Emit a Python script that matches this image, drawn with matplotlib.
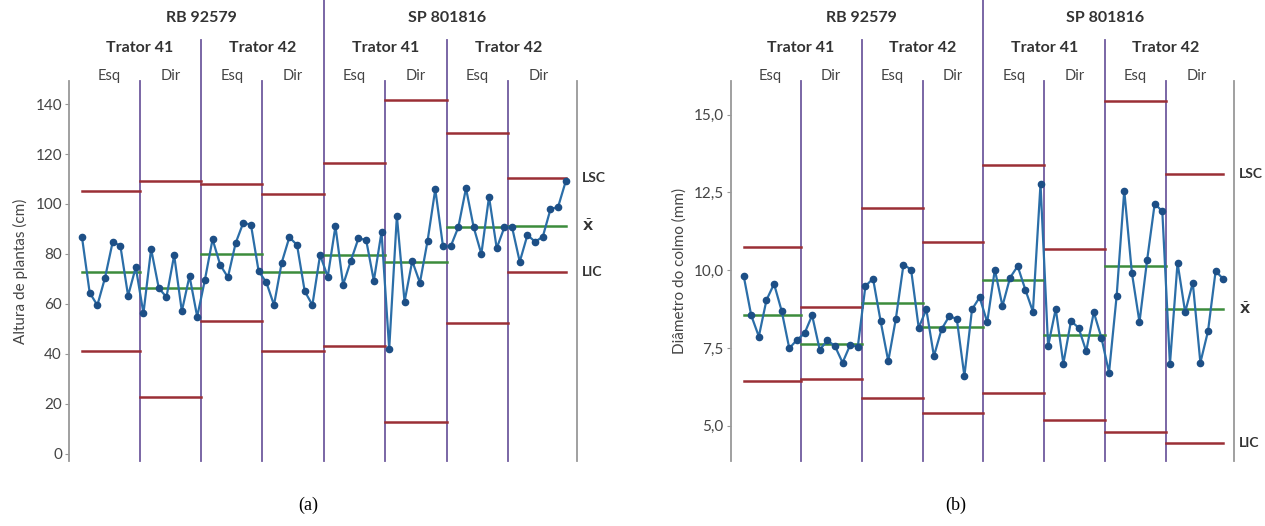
import numpy as np
import matplotlib
matplotlib.use("Agg")
import matplotlib.pyplot as plt

# dados: 8 subgrupos de 8 pontos
# ordem: RB 92579 (T41 Esq, T41 Dir, T42 Esq, T42 Dir), SP 801816 (idem)
altura = [86.7, 64.5, 59.5, 70.5, 84.9, 83.2, 63.3, 74.7,
          56.3, 82.0, 66.3, 62.8, 79.5, 57.1, 71.2, 54.9,
          69.6, 85.9, 75.6, 70.7, 84.3, 92.5, 91.7, 73.1,
          68.7, 59.6, 76.5, 86.7, 83.6, 65.1, 59.6, 79.6,
          70.9, 91.1, 67.7, 77.2, 86.3, 85.6, 69.3, 88.8,
          42.0, 95.2, 60.9, 77.2, 68.5, 85.3, 105.9, 83.2,
          83.0, 90.7, 106.3, 90.7, 80.0, 102.9, 82.3, 90.7,
          90.7, 76.9, 87.6, 84.9, 86.9, 97.9, 98.9, 109.2]
altura_lsc = [105.2, 109.3, 108.0, 103.9, 116.3, 141.6, 128.5, 110.3]
altura_media = [72.8, 66.5, 80.1, 72.7, 79.6, 76.9, 90.7, 91.2]
altura_lic = [41.3, 22.9, 53.3, 41.0, 43.2, 12.8, 52.4, 72.7]

diametro = [9.83, 8.55, 7.87, 9.04, 9.56, 8.69, 7.49, 7.76,
            7.97, 8.55, 7.44, 7.75, 7.56, 7.03, 7.60, 7.54,
            9.49, 9.73, 8.36, 7.08, 8.44, 10.18, 10.02, 8.15,
            8.74, 7.24, 8.10, 8.52, 8.44, 6.60, 8.74, 9.13,
            8.33, 10.02, 8.85, 9.76, 10.13, 9.38, 8.67, 12.77,
            7.56, 8.76, 7.00, 8.37, 8.15, 7.40, 8.65, 7.83,
            6.71, 9.17, 12.56, 9.92, 8.33, 10.32, 12.14, 11.89,
            6.98, 10.24, 8.65, 9.60, 7.03, 8.04, 9.97, 9.72]
diametro_lsc = [10.75, 8.83, 11.99, 10.90, 13.39, 10.69, 15.44, 13.10]
diametro_media = [8.56, 7.62, 8.96, 8.17, 9.70, 7.92, 10.13, 8.76]
diametro_lic = [6.43, 6.50, 5.89, 5.42, 6.07, 5.19, 4.81, 4.44]

lados = ["Esq", "Dir"] * 4
tratores = ["Trator 41", "Trator 42"] * 2
variedades = ["RB 92579", "SP 801816"]

ticks_a = [0, 20, 40, 60, 80, 100, 120, 140]
ticks_b = [5.0, 7.5, 10.0, 12.5, 15.0]
ticklabels_b = ["5,0", "7,5", "10,0", "12,5", "15,0"]

# cores
cor_linha = "#2b6ea8"
cor_ponto = "#1d4f86"
cor_media = "#3c8c3c"
cor_limite = "#9b2f35"
cor_divisao = "#6f5a9e"
cor_eixo = "#999999"

fonte = "Lato"
n = 8  # pontos por subgrupo


def painel(ax, valores, lsc, media, lic, ylim, ticks, ticklabels, ylabel):
    x = np.arange(len(valores))
    ax.set_xlim(-1.7, 64.45)
    ax.set_ylim(*ylim)

    # limites e media de cada subgrupo
    for k in range(8):
        x0 = 0 if k == 0 else k * n - 0.5
        x1 = len(valores) - 1 if k == 7 else k * n + n - 0.5
        ax.plot([x0, x1], [lsc[k], lsc[k]], color=cor_limite, lw=1.8, zorder=2)
        ax.plot([x0, x1], [lic[k], lic[k]], color=cor_limite, lw=1.8, zorder=2)
        ax.plot([x0, x1], [media[k], media[k]], color=cor_media, lw=1.8, zorder=2)

    ax.plot(x, valores, color=cor_linha, lw=1.6, marker="o", ms=4.5,
            mfc=cor_ponto, mec=cor_ponto, zorder=3)

    # linhas divisorias (lado, trator, variedade)
    tr = ax.get_xaxis_transform()
    for k in range(1, 8):
        xd = k * n - 0.5
        if k == 4:
            topo = 1.215
        elif k % 2 == 0:
            topo = 1.108
        else:
            topo = 1.0
        ax.plot([xd, xd], [0, topo], transform=tr, color=cor_divisao,
                lw=1.3, clip_on=False, zorder=1)

    # textos no topo
    for k in range(8):
        ax.text(k * n + 3.5, 1.012, lados[k], transform=tr, ha="center",
                va="center", fontsize=10.5, color="#444444", family=fonte)
    for k in range(4):
        ax.text(k * 16 + 7.5, 1.087, tratores[k], transform=tr, ha="center",
                va="center", fontsize=11.5, fontweight="bold", color="#333333",
                family=fonte)
    for k in range(2):
        ax.text(k * 32 + 15.5, 1.165, variedades[k], transform=tr, ha="center",
                va="center", fontsize=11.5, fontweight="bold", color="#333333",
                family=fonte)

    # rotulos a direita
    xr = 65.1
    ax.text(xr, lsc[7], "LSC", ha="left", va="center", fontsize=10,
            fontweight="bold", color="#333333", family=fonte, clip_on=False)
    ax.text(xr, media[7], r"$\bar{\mathbf{X}}$", ha="left", va="center",
            fontsize=9.5, color="#333333", clip_on=False)
    ax.text(xr, lic[7], "LIC", ha="left", va="center", fontsize=10,
            fontweight="bold", color="#333333", family=fonte, clip_on=False)

    ax.set_yticks(ticks)
    ax.set_yticklabels(ticklabels, family=fonte, fontsize=11, color="#444444")
    ax.set_xticks([])
    ax.tick_params(axis="y", length=3, color=cor_eixo, pad=2)
    for lado in ["top", "bottom"]:
        ax.spines[lado].set_visible(False)
    for lado in ["left", "right"]:
        ax.spines[lado].set_color(cor_eixo)
        ax.spines[lado].set_linewidth(1.3)
    ax.set_ylabel(ylabel, family=fonte, fontsize=11, color="#444444", labelpad=5)


fig = plt.figure(figsize=(12.65, 5.26), dpi=100)
ax1 = fig.add_axes([0.0545, 0.1236, 0.4016, 0.7224])
ax2 = fig.add_axes([0.5776, 0.1236, 0.3981, 0.7224])

painel(ax1, altura, altura_lsc, altura_media, altura_lic, (-2.8, 149.2),
       ticks_a, [str(t) for t in ticks_a], "Altura de plantas (cm)")
painel(ax2, diametro, diametro_lsc, diametro_media, diametro_lic, (3.87, 16.08),
       ticks_b, ticklabels_b, "Diâmetro do colmo (mm)")

fig.text(0.2435, 0.04, "(a)", ha="center", va="center", fontsize=13,
         family="Liberation Serif")
fig.text(0.7555, 0.04, "(b)", ha="center", va="center", fontsize=13,
         family="Liberation Serif")

fig.savefig("out.png", dpi=100)
